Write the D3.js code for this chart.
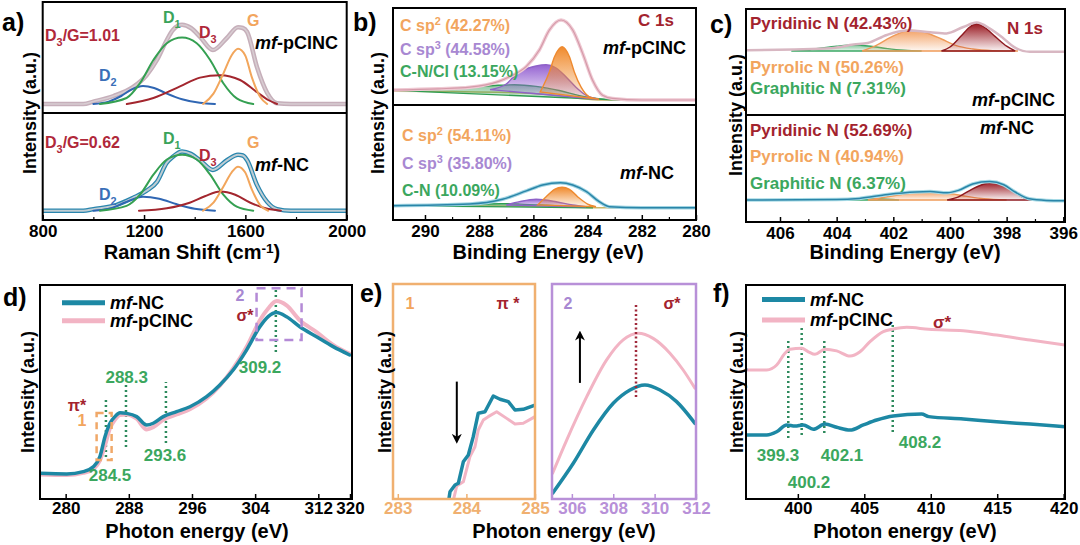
<!DOCTYPE html>
<html><head><meta charset="utf-8">
<script src="https://cdn.jsdelivr.net/npm/d3@7"></script>
<style>body{margin:0;background:#fff}svg{display:block}</style>
</head><body>
<script>
// ================= DATA =================
// ---- Panel a : Raman (x = Raman shift cm-1, y = intensity a.u.)
const ramanTicks = [800, 1200, 1600, 2000];
const ramanMinor = [1000, 1400, 1800];
const aTopEnv = [[800,0],[960,0],[1000,0.03],[1080,0.1],[1156,0.21],[1210,0.36],[1251,0.55],[1290,0.8],[1314,0.925],[1350,0.99],[1385,0.95],[1421,0.84],[1472,0.675],[1527,0.825],[1571,0.96],[1590,0.95],[1607,0.9],[1646,0.46],[1686,0.14],[1725,0.01],[1780,0],[2000,0]];
const aTopD2 = [[1000,0],[1060,0.03],[1110,0.1],[1150,0.18],[1196,0.225],[1240,0.2],[1290,0.13],[1350,0.06],[1420,0.015],[1480,0]];
const aTopD1 = [[1026,0],[1131,0.075],[1184,0.26],[1237,0.55],[1290,0.76],[1350,0.83],[1408,0.76],[1461,0.55],[1513,0.26],[1566,0.07],[1631,0]];
const aTopD3 = [[1132,0],[1237,0.075],[1342,0.22],[1421,0.33],[1500,0.36],[1579,0.3],[1645,0.15],[1690,0.05],[1725,0]];
const aTopG  = [[1433,0],[1474,0.13],[1513,0.38],[1546,0.61],[1571,0.69],[1599,0.61],[1625,0.34],[1658,0.09],[1686,0]];
const aBotEnv = [[800,0],[960,0],[1000,0.02],[1090,0.07],[1156,0.16],[1210,0.25],[1251,0.36],[1290,0.6],[1314,0.675],[1350,0.74],[1385,0.71],[1421,0.63],[1472,0.51],[1527,0.63],[1571,0.7],[1590,0.69],[1607,0.63],[1646,0.32],[1686,0.11],[1725,0.02],[1780,0],[2000,0]];
const aBotD2 = [[1000,0],[1070,0.03],[1130,0.11],[1196,0.175],[1260,0.15],[1330,0.08],[1400,0.025],[1480,0]];
const aBotD1 = [[1026,0],[1131,0.06],[1184,0.2],[1237,0.45],[1290,0.64],[1350,0.7],[1408,0.64],[1461,0.45],[1513,0.2],[1566,0.05],[1631,0]];
const aBotD3 = [[1180,0],[1290,0.03],[1380,0.1],[1440,0.18],[1500,0.24],[1560,0.2],[1620,0.1],[1680,0.03],[1740,0]];
const aBotG  = [[1433,0],[1474,0.1],[1513,0.3],[1546,0.48],[1571,0.55],[1599,0.48],[1625,0.27],[1658,0.07],[1690,0]];

// ---- Panel b : C 1s XPS (x = binding energy eV)
const c1sTicks = [290, 288, 286, 284, 282, 280];
const c1sMinor = [289, 287, 285, 283, 281];
const bTopEnv = [[291.18,0.125],[289.5,0.14],[288.35,0.16],[287.3,0.23],[286.88,0.29],[286.26,0.42],[285.78,0.625],[285.41,0.875],[284.98,1.0],[284.55,0.875],[284.18,0.58],[283.82,0.25],[283.45,0.06],[283.08,0.02],[282,0],[280.04,0]];
const bTopBg  = [[291.18,0.11],[289,0.105],[287,0.095],[286,0.08],[285,0.05],[284.3,0.02],[283.5,0],[280.04,0]];
const bTopCN  = [[291.18,0.12],[289.8,0.135],[288.4,0.16],[287.3,0.185],[286.7,0.19],[285.9,0.17],[285.0,0.115],[284.3,0.055],[283.6,0.015],[282.8,0]];
const bTopSp3 = [[287.6,0.13],[287.0,0.2],[286.76,0.28],[286.39,0.37],[285.9,0.425],[285.53,0.44],[285.16,0.4],[284.8,0.29],[284.43,0.16],[284.06,0.06],[283.6,0.01]];
const bTopSp2 = [[285.75,0.1],[285.65,0.166],[285.41,0.35],[285.22,0.54],[284.94,0.666],[284.67,0.54],[284.49,0.35],[284.24,0.16],[283.94,0.04],[283.57,0.01]];
const bBotEnv = [[291.18,0.025],[288.35,0.046],[287.14,0.105],[286.26,0.21],[285.66,0.284],[285.0,0.3125],[284.55,0.284],[284.04,0.2],[283.57,0.075],[283.2,0.0125],[282,0],[280.04,0]];
const bBotBg  = [[291.18,0.02],[287,0.02],[285,0.01],[283.5,0],[280.04,0]];
const bBotCN  = [[291.18,0.025],[289,0.035],[288,0.045],[287.2,0.05],[286.5,0.045],[285.5,0.03],[284.5,0.012],[283.8,0]];
const bBotSp3 = [[287.0,0.034],[286.51,0.075],[285.9,0.105],[285.16,0.075],[284.55,0.034],[284.06,0.0125]];
const bBotSp2 = [[285.84,0.034],[285.53,0.1375],[285.22,0.23],[284.94,0.255],[284.67,0.23],[284.37,0.1375],[284.0,0.046],[283.69,0.0125]];

// ---- Panel c : N 1s XPS
const n1sTicks = [406, 404, 402, 400, 398, 396];
const n1sMinor = [405, 403, 401, 399, 397];
const cTopEnv = [[407.2,0.01],[405.5,0.02],[404.2,0.035],[403.4,0.08],[402.9,0.1],[402.23,0.2],[401.53,0.255],[400.7,0.235],[400.12,0.22],[399.53,0.3],[399.06,0.355],[398.59,0.28],[398.12,0.16],[397.76,0.055],[397.18,-0.01],[395.94,-0.01]];
const cTopGra = [[405.6,0],[404.8,0.025],[404,0.06],[403.4,0.075],[402.8,0.06],[402.2,0.03],[401.6,0.01],[401,0]];
const cTopPyr = [[403.1,0],[402.6,0.07],[402.1,0.17],[401.4,0.26],[400.9,0.235],[400.3,0.15],[399.8,0.07],[399.2,0.025],[398.5,0.005],[397.6,0]];
const cTopPyd = [[400.3,0],[400,0.05],[399.6,0.19],[399.3,0.3],[399.06,0.34],[398.8,0.3],[398.4,0.18],[398,0.06],[397.7,0]];
const cBotEnv = [[407.2,0],[404,0.005],[403.2,0.02],[402.2,0.07],[401.2,0.1],[400.7,0.105],[400.1,0.09],[399.7,0.12],[399.2,0.2],[398.6,0.23],[398.1,0.19],[397.7,0.1],[397.2,0.015],[396.6,-0.005],[395.94,-0.01]];
const cBotGra = [[405,0],[404,0.01],[403.2,0.02],[402.5,0.015],[401.8,0]];
const cBotPyr = [[402.9,0],[402.2,0.04],[401.4,0.085],[400.7,0.1],[400,0.08],[399.4,0.045],[398.8,0.015],[398,0]];
const cBotPyd = [[400.1,0],[399.7,0.04],[399.2,0.14],[398.8,0.2],[398.5,0.22],[398.2,0.2],[397.8,0.12],[397.4,0.03],[397.1,0]];

// ---- Panel d : C K-edge NEXAFS (x = photon energy eV)
const dTicks = [280, 288, 296, 304, 312, 320];
const dNC = [[276.75,0.12],[280.13,0.117],[282.23,0.128],[283.5,0.151],[284.34,0.198],[284.98,0.291],[285.61,0.354],[286.24,0.385],[286.88,0.403],[287.72,0.4],[288.99,0.385],[290.26,0.346],[291.09,0.354],[292.36,0.385],[294.05,0.408],[295.74,0.431],[297.85,0.478],[299.53,0.533],[301.22,0.603],[302.91,0.696],[304.6,0.805],[305.65,0.852],[306.71,0.871],[307.98,0.852],[309.66,0.805],[311.78,0.758],[315.75,0.712],[319.93,0.673]];
const dPCl = [[276.75,0.115],[280.13,0.112],[282.23,0.122],[283.5,0.14],[284.34,0.18],[284.98,0.25],[285.61,0.33],[286.24,0.37],[286.88,0.393],[287.72,0.395],[288.99,0.375],[290.26,0.325],[291.09,0.335],[292.36,0.37],[294.05,0.395],[295.74,0.42],[297.85,0.47],[299.53,0.53],[301.22,0.61],[302.91,0.71],[304.6,0.835],[305.65,0.89],[306.71,0.925],[307.98,0.905],[309.66,0.835],[311.78,0.78],[315.75,0.72],[319.93,0.678]];
const dMarkPos = [285.1, 287.64, 292.7, 306.62];
const dMarkLo  = [0.196, 0.243, 0.262, 0.687];
const dMarkHi  = [0.472, 0.533, 0.547, 0.977];
const dMarkLabels = ["284.5", "288.3", "293.6", "309.2"];

// ---- Panel e : zoomed regions 1 and 2
const e1Ticks = [283, 284, 285];
const e2Ticks = [306, 308, 310, 312];
const e1NC  = [[283.736,-0.02],[283.761,0.034],[283.834,0.065],[283.882,0.073],[283.955,0.173],[284.028,0.205],[284.1,0.29],[284.173,0.399],[284.271,0.406],[284.392,0.479],[284.49,0.464],[284.611,0.453],[284.708,0.414],[284.829,0.417],[285.0,0.437]];
const e1PCl = [[283.8,-0.02],[283.858,0.06],[283.955,0.08],[284.052,0.197],[284.125,0.243],[284.173,0.321],[284.246,0.367],[284.319,0.383],[284.441,0.406],[284.587,0.375],[284.708,0.349],[284.829,0.352],[285.0,0.383]];
const e2NC  = [[305.07,0.027],[306.07,0.166],[307.04,0.321],[308.0,0.445],[308.81,0.507],[309.53,0.53],[310.26,0.507],[311.06,0.453],[311.95,0.352]];
const e2PCl = [[305.07,0.12],[305.75,0.274],[306.72,0.476],[307.68,0.647],[308.48,0.74],[309.21,0.771],[309.93,0.747],[310.74,0.678],[311.38,0.6],[311.95,0.515]];

// ---- Panel f : N K-edge NEXAFS
const fTicks = [400, 405, 410, 415, 420];
const fPCl = [[396.15,0.603],[397.66,0.603],[398.41,0.626],[399.03,0.681],[399.41,0.7],[400.29,0.704],[400.79,0.688],[401.29,0.676],[402.04,0.7],[402.92,0.692],[403.93,0.668],[404.68,0.688],[405.43,0.735],[406.43,0.782],[407.18,0.794],[408.19,0.802],[409.85,0.793],[412.45,0.786],[414.96,0.766],[417.47,0.743],[420.1,0.72]];
const fNC  = [[396.15,0.299],[397.66,0.299],[398.41,0.314],[399.16,0.346],[399.79,0.341],[400.41,0.346],[401.16,0.326],[402.04,0.35],[402.92,0.335],[403.93,0.322],[404.93,0.346],[405.93,0.369],[407.18,0.388],[409.31,0.397],[409.85,0.385],[412.45,0.374],[414.96,0.361],[417.47,0.35],[420.1,0.338]];
const fMarkPos = [399.28, 400.29, 401.99, 407.14];
const fMarkLo  = [0.285, 0.299, 0.308, 0.313];
const fMarkHi  = [0.752, 0.813, 0.743, 0.813];
const fMarkLabels = ["399.3", "400.2", "402.1", "408.2"];

// ================= STYLE =================
const FONT = "'Liberation Sans', Arial, sans-serif";
const TEAL = "#1d88a4", PINK = "#f2b4c4", GREEN_T = "#3ba75e", DRED = "#a3232e",
      ORANGE_T = "#f2a55e", PURPLE_T = "#a888d2", DOTG = "#2d8a5c";

const svg = d3.select("body").append("svg").attr("width",1080).attr("height",545)
  .attr("font-family",FONT).attr("font-weight","bold");
const defs = svg.append("defs");
let cid = 0;
function clip(x0,y0,x1,y1){const id="clip"+(cid++);defs.append("clipPath").attr("id",id).append("rect").attr("x",x0).attr("y",y0).attr("width",x1-x0).attr("height",y1-y0);return `url(#${id})`;}
function grad(id,color,topOp,endOp){const g=defs.append("linearGradient").attr("id",id).attr("x1",0).attr("y1",0).attr("x2",0).attr("y2",1);
  g.append("stop").attr("offset",0).attr("stop-color",color).attr("stop-opacity",topOp);
  g.append("stop").attr("offset",1).attr("stop-color",color).attr("stop-opacity",endOp);}
grad("gOr","#f08a2c",1,0.08); grad("gPu","#9563d2",1,0.08); grad("gGr","#2e9c52",0.55,0.1);
grad("gRd","#9a1a22",1,0.05); grad("gOr2","#f3a266",1,0.08); grad("gGr2","#4cb070",0.7,0.1);
defs.append("marker").attr("id","arr").attr("viewBox","0 0 10 10").attr("refX",5).attr("refY",5)
  .attr("markerWidth",5).attr("markerHeight",5).attr("orient","auto-start-reverse")
  .append("path").attr("d","M0,0 L10,5 L0,10 L3,5 Z").attr("fill","#000");

function line(g,data,x,y,color,w,crv){
  g.append("path").attr("d",d3.line().x(d=>x(d[0])).y(d=>y(d[1])).curve(crv||d3.curveMonotoneX)(data))
   .attr("fill","none").attr("stroke",color).attr("stroke-width",w).attr("stroke-linejoin","round").attr("stroke-linecap","round");
}
function filled(g,data,x,y,gid,stroke){
  g.append("path").attr("d",d3.line().x(d=>x(d[0])).y(d=>y(d[1])).curve(d3.curveMonotoneX)(data)+"Z")
   .attr("fill",`url(#${gid})`).attr("stroke",stroke).attr("stroke-width",1.4);
}
function rich(g,x,y,parts,o){
  o=o||{};
  const t=g.append("text").attr("x",x).attr("y",y).attr("font-size",o.size||16).attr("fill",o.fill||"#000")
    .attr("text-anchor",o.anchor||"start").attr("font-family",FONT).attr("font-weight","bold");
  if(o.rotate) t.attr("transform",`rotate(-90,${x},${y})`);
  let shift=0;
  parts.forEach(p=>{
    if(typeof p==="string") p={t:p};
    const target=p.sub?5:(p.sup?-6:0);
    const s=t.append("tspan").text(p.t).attr("dy",target-shift);
    shift=target;
    if(p.sub||p.sup) s.attr("font-size",(o.size||16)*0.68);
    if(p.it) s.attr("font-style","italic");
  });
  return t;
}
function frame(g,x0,y0,x1,y1,color,w){
  g.append("rect").attr("x",x0).attr("y",y0).attr("width",x1-x0).attr("height",y1-y0)
   .attr("fill","none").attr("stroke",color||"#000").attr("stroke-width",w||2);
}
function xAxis(g,scale,ticks,minor,y,color,pad){
  const a=g.append("g").attr("transform",`translate(0,${y})`)
    .call(d3.axisBottom(scale).tickValues(ticks).tickSizeInner(-5).tickSizeOuter(0).tickPadding(pad||5).tickFormat(d3.format("d")));
  a.select(".domain").remove();
  a.attr("font-size",17).attr("font-family",FONT);
  a.selectAll("text").attr("font-weight","bold").attr("fill",color||"#000").attr("font-size",17);
  a.selectAll("line").attr("stroke",color||"#000").attr("stroke-width",1.5);
  if(minor){
    const m=g.append("g").attr("transform",`translate(0,${y})`)
      .call(d3.axisBottom(scale).tickValues(minor).tickSizeInner(-3).tickSizeOuter(0).tickFormat(""));
    m.select(".domain").remove();
    m.selectAll("line").attr("stroke",color||"#000").attr("stroke-width",1.2);
  }
}
function ytitle(x,y){rich(svg,x,y,["Intensity (a.u.)"],{size:18,anchor:"middle",rotate:true}).attr("dominant-baseline","central");}
function plabel(x,y,s){svg.append("text").attr("x",x).attr("y",y).attr("font-size",25).attr("font-weight","bold").attr("font-family",FONT).text(s);}
const mf = (rest)=>[{t:"mf",it:true},rest];

// ================= PANEL a =================
{
  const L=42.7,R=346.7,T=2,M=113,B=220;
  const x=d3.scaleLinear().domain([800,2000]).range([L,R]);
  const yT=d3.scaleLinear().domain([-0.1125,1.275]).range([M,T]);
  const yB=d3.scaleLinear().domain([-0.116,1.221]).range([B,M]);
  const gT=svg.append("g").attr("clip-path",clip(L,T,R,M));
  line(gT,aTopEnv,x,yT,"#c6afba",4.5);
  line(gT,aTopEnv,x,yT,"#d8cdd2",1.5);
  line(gT,aTopD2,x,yT,"#2f66b3",2);
  line(gT,aTopD1,x,yT,"#35a052",2);
  line(gT,aTopD3,x,yT,"#a3262e",2);
  line(gT,aTopG,x,yT,"#f2a65c",2);
  const gB=svg.append("g").attr("clip-path",clip(L,M,R,B));
  line(gB,aBotEnv,x,yB,"#2a86ae",4.5);
  line(gB,aBotEnv,x,yB,"#bfcdd3",2);
  line(gB,aBotD2,x,yB,"#2f66b3",2);
  line(gB,aBotD1,x,yB,"#35a052",2);
  line(gB,aBotD3,x,yB,"#a3262e",2);
  line(gB,aBotG,x,yB,"#f2a65c",2);
  frame(svg,L,T,R,B); svg.append("line").attr("x1",L).attr("x2",R).attr("y1",M).attr("y2",M).attr("stroke","#000").attr("stroke-width",2);
  xAxis(svg,x,ramanTicks,ramanMinor,B);
  const red="#b0283a";
  rich(svg,45,41,["D",{t:"3",sub:true},"/G=1.01"],{fill:red});
  rich(svg,163,23,["D",{t:"1",sub:true}],{fill:"#3aa35a"});
  rich(svg,199,38,["D",{t:"3",sub:true}],{fill:red});
  rich(svg,247,26,["G"],{fill:ORANGE_T});
  rich(svg,255,49,mf("-pClNC"),{size:18});
  rich(svg,99,81,["D",{t:"2",sub:true}],{fill:"#3a6fb8"});
  rich(svg,45,148,["D",{t:"3",sub:true},"/G=0.62"],{fill:red});
  rich(svg,163,144,["D",{t:"1",sub:true}],{fill:"#3aa35a"});
  rich(svg,199,161,["D",{t:"3",sub:true}],{fill:red});
  rich(svg,247,148,["G"],{fill:ORANGE_T});
  rich(svg,255,171,mf("-NC"),{size:18});
  rich(svg,99,200,["D",{t:"2",sub:true}],{fill:"#3a6fb8"});
  rich(svg,192,259,["Raman Shift (cm",{t:"-1",sup:true},")"],{size:20,anchor:"middle"});
  ytitle(30,113);
  plabel(2,31,"a)");
}

// ================= PANEL b =================
{
  const L=393,R=696,T=8,M=105,B=220;
  const x=d3.scaleLinear().domain([291.18,280]).range([L,R]);
  const yT=d3.scaleLinear().domain([-0.0625,1.15]).range([M,T]);
  const yB=d3.scaleLinear().domain([-0.154,1.284]).range([B,M]);
  const gT=svg.append("g").attr("clip-path",clip(L,T,R,M));
  line(gT,bTopBg,x,yT,"#c9b66a",1.5);
  filled(gT,bTopCN,x,yT,"gGr","#2e9c52");
  filled(gT,bTopSp3,x,yT,"gPu","#8f62c8");
  filled(gT,bTopSp2,x,yT,"gOr","#ee8a30");
  line(gT,bTopEnv,x,yT,"#efc9d3",3.5);
  line(gT,bTopEnv,x,yT,"#d59aa9",1.2);
  const gB=svg.append("g").attr("clip-path",clip(L,M,R,B));
  line(gB,bBotBg,x,yB,"#c9b66a",1.5);
  filled(gB,bBotCN,x,yB,"gGr","#2e9c52");
  filled(gB,bBotSp3,x,yB,"gPu","#8f62c8");
  filled(gB,bBotSp2,x,yB,"gOr","#ee8a30");
  line(gB,bBotEnv,x,yB,"#9fd4e2",3.5);
  line(gB,bBotEnv,x,yB,"#2a85a8",1.5);
  frame(svg,L,T,R,B); svg.append("line").attr("x1",L).attr("x2",R).attr("y1",M).attr("y2",M).attr("stroke","#000").attr("stroke-width",2);
  xAxis(svg,x,c1sTicks,c1sMinor,B);
  rich(svg,400,31,["C sp",{t:"2",sup:true}," (42.27%)"],{fill:ORANGE_T});
  rich(svg,400,55,["C sp",{t:"3",sup:true}," (44.58%)"],{fill:PURPLE_T});
  rich(svg,400,77,["C-N/Cl (13.15%)"],{fill:GREEN_T});
  rich(svg,638,26,["C 1s"],{fill:DRED,size:17});
  rich(svg,603,54,mf("-pClNC"),{size:18});
  rich(svg,402,141,["C sp",{t:"2",sup:true}," (54.11%)"],{fill:ORANGE_T});
  rich(svg,402,169,["C sp",{t:"3",sup:true}," (35.80%)"],{fill:PURPLE_T});
  rich(svg,402,196,["C-N (10.09%)"],{fill:GREEN_T});
  rich(svg,620,179,mf("-NC"),{size:18});
  rich(svg,548,259,["Binding Energy (eV)"],{size:20,anchor:"middle"});
  ytitle(378,113);
  plabel(353,31,"b)");
}

// ================= PANEL c =================
{
  const L=746,R=1065,T=9,M=115,B=222;
  const x=d3.scaleLinear().domain([407.2,395.94]).range([L,R]);
  const yT=d3.scaleLinear().domain([-0.8,0.525]).range([M,T]);
  const yB=d3.scaleLinear().domain([-0.275,1.0625]).range([B,M]);
  const gT=svg.append("g").attr("clip-path",clip(L,T,R,M));
  filled(gT,cTopGra,x,yT,"gGr2","#3aa864");
  filled(gT,cTopPyr,x,yT,"gOr2","#f09a58");
  filled(gT,cTopPyd,x,yT,"gRd","#8e1a20");
  line(gT,cTopEnv,x,yT,"#d8b7c2",2.5);
  const gB=svg.append("g").attr("clip-path",clip(L,M,R,B));
  filled(gB,cBotGra,x,yB,"gGr2","#3aa864");
  filled(gB,cBotPyr,x,yB,"gOr2","#f09a58");
  filled(gB,cBotPyd,x,yB,"gRd","#8e1a20");
  line(gB,cBotEnv,x,yB,"#a8dbe6",3.5);
  line(gB,cBotEnv,x,yB,"#2a85a8",1.5);
  frame(svg,L,T,R,B); svg.append("line").attr("x1",L).attr("x2",R).attr("y1",M).attr("y2",M).attr("stroke","#000").attr("stroke-width",2);
  xAxis(svg,x,n1sTicks,n1sMinor,B);
  const s=17;
  rich(svg,750,29,["Pyridinic N (42.43%)"],{fill:DRED,size:s});
  rich(svg,1007,34,["N 1s"],{fill:DRED,size:s});
  rich(svg,750,73,["Pyrrolic N (50.26%)"],{fill:ORANGE_T,size:s});
  rich(svg,750,94,["Graphitic N (7.31%)"],{fill:GREEN_T,size:s});
  rich(svg,972,106,mf("-pClNC"),{size:18});
  rich(svg,750,136,["Pyridinic N (52.69%)"],{fill:DRED,size:s});
  rich(svg,980,134,mf("-NC"),{size:18});
  rich(svg,750,162,["Pyrrolic N (40.94%)"],{fill:ORANGE_T,size:s});
  rich(svg,750,189,["Graphitic N (6.37%)"],{fill:GREEN_T,size:s});
  rich(svg,905,259,["Binding Energy (eV)"],{size:20,anchor:"middle"});
  ytitle(736,115);
  plabel(710,33,"c)");
}

// ================= PANEL d =================
{
  const L=40,R=352,T=285,B=499;
  const x=d3.scaleLinear().domain([276.75,312,320]).range([L,318.3,350]);
  const y=d3.scaleLinear().domain([0,1]).range([B,T]);
  const g=svg.append("g").attr("clip-path",clip(L,T,R,B));
  dMarkPos.forEach((p,i)=>{
    g.append("line").attr("x1",x(p)).attr("x2",x(p)).attr("y1",y(dMarkLo[i])).attr("y2",y(dMarkHi[i]))
     .attr("stroke",DOTG).attr("stroke-width",2.5).attr("stroke-dasharray","2,3");
  });
  line(g,dPCl,x,y,PINK,4);
  line(g,dNC,x,y,TEAL,3.5);
  g.append("rect").attr("x",x(283.92)).attr("y",y(0.402)).attr("width",x(285.82)-x(283.92)).attr("height",y(0.182)-y(0.402))
   .attr("fill","none").attr("stroke","#f0a868").attr("stroke-width",2.5).attr("stroke-dasharray","7,5");
  g.append("rect").attr("x",x(304.18)).attr("y",y(0.985)).attr("width",x(309.88)-x(304.18)).attr("height",y(0.743)-y(0.985))
   .attr("fill","none").attr("stroke","#b48ad6").attr("stroke-width",2.5).attr("stroke-dasharray","9,6");
  frame(svg,L,T,R,B);
  xAxis(svg,x,dTicks,null,B,null,3);
  svg.append("line").attr("x1",62).attr("x2",105).attr("y1",302.7).attr("y2",302.7).attr("stroke",TEAL).attr("stroke-width",5);
  svg.append("line").attr("x1",62).attr("x2",105).attr("y1",320.7).attr("y2",320.7).attr("stroke",PINK).attr("stroke-width",5);
  rich(svg,110,309,mf("-NC"),{size:18});
  rich(svg,110,327,mf("-pClNC"),{size:18});
  rich(svg,77,411,["π*"],{fill:DRED,anchor:"middle"});
  rich(svg,82,426,["1"],{fill:ORANGE_T,anchor:"middle"});
  rich(svg,240,301,["2"],{fill:PURPLE_T,anchor:"middle"});
  rich(svg,245,321,["σ*"],{fill:DRED,anchor:"middle"});
  const lp=[[110,481],[126.7,383],[165,461],[260,373]];
  dMarkLabels.forEach((t,i)=>rich(svg,lp[i][0],lp[i][1],[t],{fill:GREEN_T,anchor:"middle",size:17}));
  rich(svg,197,538,["Photon energy (eV)"],{size:20,anchor:"middle"});
  ytitle(28,392);
  plabel(3,306,"d)");
}

// ================= PANEL e =================
{
  const T=284,B=499;
  const y=d3.scaleLinear().domain([0,1]).range([B,T]);
  const x1=d3.scaleLinear().domain([282.93,285]).range([393,535]);
  const x2=d3.scaleLinear().domain([305.04,312]).range([552,696]);
  const g1=svg.append("g").attr("clip-path",clip(393,T,535,B));
  line(g1,e1PCl,x1,y,PINK,3,d3.curveLinear);
  line(g1,e1NC,x1,y,TEAL,3.5,d3.curveLinear);
  g1.append("line").attr("x1",x1(283.86)).attr("x2",x1(283.86)).attr("y1",y(0.546)).attr("y2",y(0.28))
    .attr("stroke","#000").attr("stroke-width",2).attr("marker-end","url(#arr)");
  const g2=svg.append("g").attr("clip-path",clip(552,T,696,B));
  line(g2,e2PCl,x2,y,PINK,3);
  line(g2,e2NC,x2,y,TEAL,3.5);
  g2.append("line").attr("x1",x2(309.1)).attr("x2",x2(309.1)).attr("y1",y(0.902)).attr("y2",y(0.47))
    .attr("stroke","#a0283a").attr("stroke-width",2.5).attr("stroke-dasharray","2,2.5");
  g2.append("line").attr("x1",x2(306.39)).attr("x2",x2(306.39)).attr("y1",y(0.54)).attr("y2",y(0.76))
    .attr("stroke","#000").attr("stroke-width",2).attr("marker-end","url(#arr)");
  frame(svg,393,T,535,B,"#f0b070",2.5);
  frame(svg,552,T,696,B,"#b890d8",2.5);
  xAxis(svg,x1,e1Ticks,null,B,"#f0b070",3);
  xAxis(svg,x2,e2Ticks,null,B,"#b890d8",3);
  rich(svg,410,309,["1"],{fill:ORANGE_T,anchor:"middle"});
  rich(svg,508,309,["π *"],{fill:DRED,anchor:"middle"});
  rich(svg,568,309,["2"],{fill:PURPLE_T,anchor:"middle"});
  rich(svg,672,309,["σ*"],{fill:DRED,anchor:"middle"});
  rich(svg,564,538,["Photon energy (eV)"],{size:20,anchor:"middle"});
  ytitle(385,392);
  plabel(360,302,"e)");
}

// ================= PANEL f =================
{
  const L=746,R=1065,T=285,B=499;
  const x=d3.scaleLinear().domain([396.1,420.1]).range([L,R]);
  const y=d3.scaleLinear().domain([0,1]).range([B,T]);
  const g=svg.append("g").attr("clip-path",clip(L,T,R,B));
  fMarkPos.forEach((p,i)=>{
    g.append("line").attr("x1",x(p)).attr("x2",x(p)).attr("y1",y(fMarkLo[i])).attr("y2",y(fMarkHi[i]))
     .attr("stroke",DOTG).attr("stroke-width",2.5).attr("stroke-dasharray","2,3");
  });
  line(g,fPCl,x,y,PINK,3);
  line(g,fNC,x,y,TEAL,3.5);
  frame(svg,L,T,R,B);
  xAxis(svg,x,fTicks,null,B,null,3);
  svg.append("line").attr("x1",762).attr("x2",805).attr("y1",299.5).attr("y2",299.5).attr("stroke",TEAL).attr("stroke-width",5);
  svg.append("line").attr("x1",762).attr("x2",805).attr("y1",320).attr("y2",320).attr("stroke",PINK).attr("stroke-width",5);
  rich(svg,810,305.5,mf("-NC"),{size:18});
  rich(svg,810,326,mf("-pClNC"),{size:18});
  rich(svg,942,328,["σ*"],{fill:DRED,anchor:"middle",size:17});
  const lp=[[778,461],[809,488],[842,461],[920,448]];
  fMarkLabels.forEach((t,i)=>rich(svg,lp[i][0],lp[i][1],[t],{fill:GREEN_T,anchor:"middle",size:17}));
  rich(svg,905,538,["Photon energy (eV)"],{size:20,anchor:"middle"});
  ytitle(737,392);
  plabel(713,302,"f)");
}
</script>
</body></html>
